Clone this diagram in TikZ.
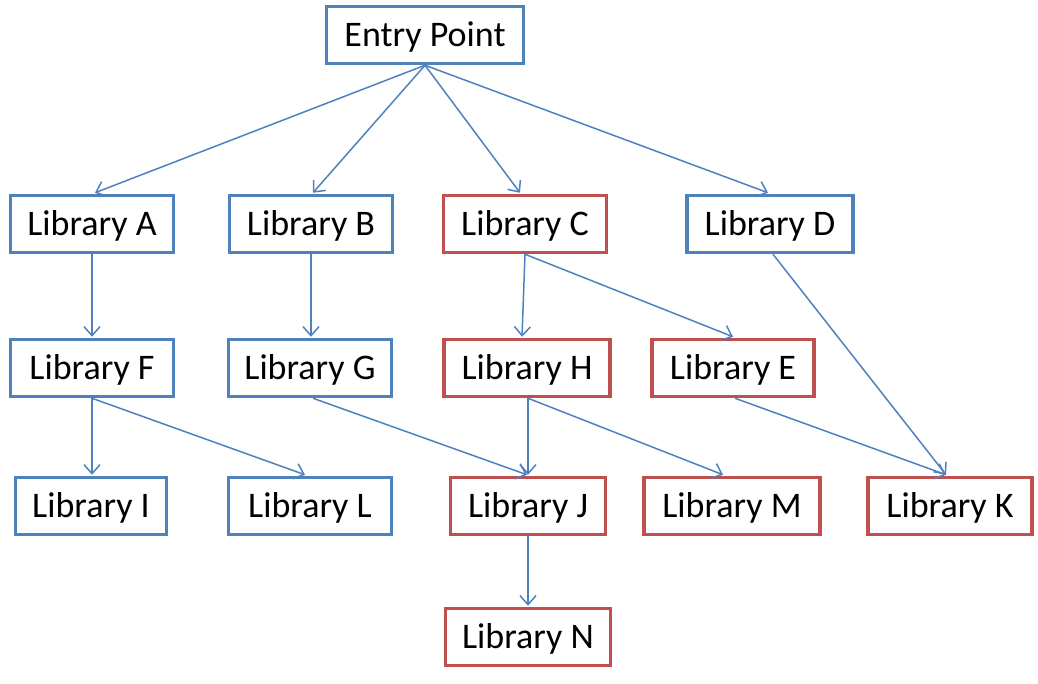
\documentclass[tikz,border=0pt]{standalone}
\usepackage{fontspec}
\setmainfont{Carlito}
\usetikzlibrary{arrows.meta}
\definecolor{bblue}{HTML}{4F81BD}
\definecolor{rred}{HTML}{C0504D}
\tikzset{
  box/.style={draw, line width=3.5pt, fill=white, inner sep=0pt, font=\fontsize{36}{40}\selectfont, minimum height=57pt, text height=29pt, text depth=7pt},
  bbox/.style={box, draw=bblue},
  rbox/.style={box, draw=rred},
  edge/.style={draw=bblue, line width=1.5pt, -{Straight Barb[length=9pt,width=16pt]}}
}
\begin{document}
\begin{tikzpicture}[x=1pt,y=-1pt]
\useasboundingbox (0,0) rectangle (1038,683);
\node[bbox, minimum width=197pt] (ep) at (425,35) {Entry Point};
\node[bbox, minimum width=163pt] (A) at (92,224) {Library A};
\node[bbox, minimum width=163pt] (B) at (311,224) {Library B};
\node[rbox, minimum width=163pt] (C) at (525,224) {Library C};
\node[bbox, minimum width=166pt] (D) at (770,224) {Library D};
\node[bbox, minimum width=163pt] (F) at (92,368) {Library F};
\node[bbox, minimum width=163pt] (G) at (310,368) {Library G};
\node[rbox, minimum width=166pt] (H) at (527,368) {Library H};
\node[rbox, minimum width=162pt] (E) at (733,368) {Library E};
\node[bbox, minimum width=151pt] (I) at (91,506) {Library I};
\node[bbox, minimum width=163pt] (L) at (310,506) {Library L};
\node[rbox, minimum width=155pt] (J) at (528,506) {Library J};
\node[rbox, minimum width=176pt] (M) at (732,506) {Library M};
\node[rbox, minimum width=164pt] (K) at (950,506) {Library K};
\node[rbox, minimum width=165pt] (N) at (528,637) {Library N};

\draw[edge] (ep.south) -- ([xshift=3pt,yshift=1pt]A.north);
\draw[edge] (ep.south) -- ([xshift=2pt,yshift=1pt]B.north);
\draw[edge] (ep.south) -- ([xshift=-5pt,yshift=1pt]C.north);
\draw[edge] (ep.south) -- ([xshift=-2pt,yshift=1pt]D.north);
\draw[edge] (A.south) -- ([yshift=1pt]F.north);
\draw[edge] (B.south) -- ([xshift=1pt,yshift=1pt]G.north);
\draw[edge] (C.south) -- ([xshift=-5pt,yshift=1pt]H.north);
\draw[edge] (C.south) -- ([yshift=1pt]E.north);
\draw[edge] ([xshift=3pt]D.south) -- ([xshift=-4pt,yshift=1pt]K.north);
\draw[edge] (F.south) -- ([xshift=1pt,yshift=1pt]I.north);
\draw[edge] (F.south) -- ([xshift=-5pt,yshift=1pt]L.north);
\draw[edge] ([xshift=3pt]G.south) -- ([xshift=-1pt,yshift=1pt]J.north);
\draw[edge] ([xshift=1pt]H.south) -- ([yshift=1pt]J.north);
\draw[edge] ([xshift=1pt]H.south) -- ([xshift=-9pt,yshift=1pt]M.north);
\draw[edge] ([xshift=2pt]E.south) -- ([xshift=-4pt,yshift=1pt]K.north);
\draw[edge] (J.south) -- ([yshift=1pt]N.north);
\end{tikzpicture}
\end{document}
